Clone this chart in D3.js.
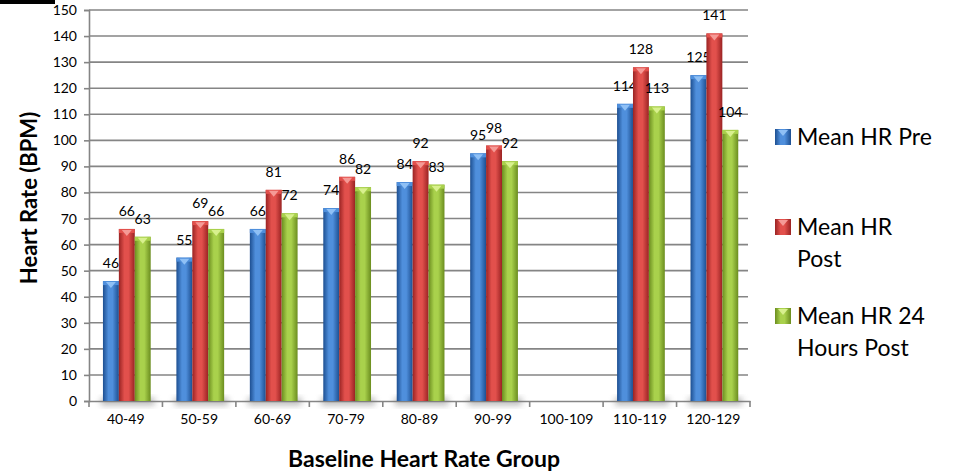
<!DOCTYPE html>
<html>
<head>
<meta charset="utf-8">
<script src="https://cdn.jsdelivr.net/npm/d3@7"></script>
<style>
  html, body { margin: 0; padding: 0; background: white; }
  svg { display: block; font-family: Lato, "Open Sans", sans-serif; }
</style>
</head>
<body>
<div id="chart"></div>
<script>
// Datos
const categorias = ["40-49", "50-59", "60-69", "70-79", "80-89", "90-99", "100-109", "110-119", "120-129"];
const series = ["Mean HR Pre", "Mean HR Post", "Mean HR 24 Hours Post"];
const hrPre = [46, 55, 66, 74, 84, 95, null, 114, 125];
const hrPost = [66, 69, 81, 86, 92, 98, null, 128, 141];
const hr24 = [63, 66, 72, 82, 83, 92, null, 113, 104];
const yTicks = [0, 10, 20, 30, 40, 50, 60, 70, 80, 90, 100, 110, 120, 130, 140, 150];

const width = 965, height = 473;
const margin = { left: 89, right: 750, top: 10, bottom: 401 };

// colores: [borde oscuro, centro claro, tapa]
const colores = [
  ["#1d4f91", "#4f8fdc", "#8fc0f5"],
  ["#9a2323", "#e2504c", "#f59a96"],
  ["#6b8d1f", "#a9d14c", "#d8f08e"]
];

const svg = d3.select("#chart").append("svg")
  .attr("width", width).attr("height", height);

const defs = svg.append("defs");
colores.forEach((c, i) => {
  const g = defs.append("linearGradient").attr("id", `grad${i}`)
    .attr("x1", "0%").attr("x2", "100%").attr("y1", "0%").attr("y2", "0%");
  g.append("stop").attr("offset", "0%").attr("stop-color", c[0]);
  g.append("stop").attr("offset", "35%").attr("stop-color", c[1]);
  g.append("stop").attr("offset", "60%").attr("stop-color", c[1]);
  g.append("stop").attr("offset", "100%").attr("stop-color", c[0]);
});
defs.append("filter").attr("id", "blur").attr("x", "-50%").attr("y", "-50%")
  .attr("width", "200%").attr("height", "200%")
  .append("feGaussianBlur").attr("stdDeviation", 3);

// Barra negra recortada arriba
svg.append("rect").attr("x", 0).attr("y", 0).attr("width", 55).attr("height", 4).attr("fill", "#000");

// Escalas
const y = d3.scaleLinear().domain([0, 150]).range([margin.bottom, margin.top]);
const x0 = d3.scaleBand().domain(categorias).range([margin.left, margin.right]);
const bw = x0.bandwidth();
const x1 = d3.scaleBand().domain(d3.range(3)).range([bw * 0.19, bw * 0.84]);

// Rejilla
svg.append("g").selectAll("line").data(yTicks.filter(d => d > 0)).enter().append("line")
  .attr("x1", margin.left).attr("x2", margin.right - 2)
  .attr("y1", d => y(d)).attr("y2", d => y(d))
  .attr("stroke", "#858585").attr("stroke-width", 1.6);

// Eje Y
const yAxis = svg.append("g").attr("transform", `translate(${margin.left},0)`)
  .call(d3.axisLeft(y).tickValues(yTicks).tickSize(5).tickPadding(7));
yAxis.select(".domain").attr("stroke", "#858585").attr("stroke-width", 1.6);
yAxis.selectAll(".tick line").attr("stroke", "#858585").attr("stroke-width", 1.6);
yAxis.selectAll("text").style("font-size", "14px").attr("fill", "#000")
  .style("font-family", "Lato, sans-serif");

// Eje X
const xAxis = svg.append("g").attr("transform", `translate(0,${margin.bottom})`)
  .call(d3.axisBottom(x0).tickSize(0).tickPadding(13));
xAxis.select(".domain").attr("stroke", "#858585").attr("stroke-width", 1.6);
xAxis.selectAll("text").style("font-size", "14px").attr("fill", "#000")
  .style("font-family", "Lato, sans-serif");
xAxis.selectAll(".sep").data(categorias.concat(["fin"])).enter().append("line")
  .attr("class", "sep")
  .attr("x1", (d, i) => margin.left + i * bw).attr("x2", (d, i) => margin.left + i * bw)
  .attr("y1", 0).attr("y2", 6)
  .attr("stroke", "#858585").attr("stroke-width", 1.6);

// Datos por grupo
const datos = categorias.map((c, i) => ({
  cat: c,
  vals: [hrPre[i], hrPost[i], hr24[i]]
}));

const grupos = svg.append("g").selectAll("g").data(datos).enter().append("g")
  .attr("transform", d => `translate(${x0(d.cat)},0)`);

// Sombras
grupos.filter(d => d.vals[0] != null).append("rect")
  .attr("x", x1(0) - 2).attr("width", x1.bandwidth() * 3 + 6)
  .attr("y", margin.bottom - 3).attr("height", 7)
  .attr("fill", "#777").attr("opacity", 0.55).attr("filter", "url(#blur)");

const barras = grupos.selectAll("g.bar")
  .data(d => d.vals.map((v, k) => ({ v, k })).filter(e => e.v != null))
  .enter().append("g").attr("class", "bar");

barras.append("rect")
  .attr("x", d => x1(d.k)).attr("width", x1.bandwidth())
  .attr("y", d => y(d.v)).attr("height", d => y(0) - y(d.v))
  .attr("fill", d => `url(#grad${d.k})`);

// Tapa biselada
barras.append("rect")
  .attr("x", d => x1(d.k)).attr("width", x1.bandwidth())
  .attr("y", d => y(d.v)).attr("height", 4)
  .attr("fill", d => colores[d.k][1]);
barras.append("path")
  .attr("d", d => {
    const xa = x1(d.k) + 3, xb = x1(d.k) + x1.bandwidth() - 3, xm = (xa + xb) / 2, ya = y(d.v) + 1;
    return `M${xa},${ya} L${xb},${ya} L${xm},${ya + 6} Z`;
  })
  .attr("fill", d => colores[d.k][2]);

// Etiquetas de valores
barras.append("text")
  .attr("x", d => x1(d.k) + x1.bandwidth() / 2)
  .attr("y", d => y(d.v) - 13)
  .attr("text-anchor", "middle")
  .style("font-size", "14px")
  .text(d => d.v);

// Títulos de ejes
svg.append("text")
  .attr("transform", "translate(37,198) rotate(-90)")
  .attr("text-anchor", "middle")
  .style("font-size", "22px").style("font-weight", "bold")
  .text("Heart Rate (BPM)");

svg.append("text")
  .attr("x", 424).attr("y", 467)
  .attr("text-anchor", "middle")
  .style("font-size", "23px").style("font-weight", "bold")
  .text("Baseline Heart Rate Group");

// Leyenda
const leyenda = [
  { lineas: ["Mean HR Pre"], y: 145 },
  { lineas: ["Mean HR", "Post"], y: 235 },
  { lineas: ["Mean HR 24", "Hours Post"], y: 324 }
];
const leg = svg.append("g").selectAll("g").data(leyenda).enter().append("g");
leg.append("rect")
  .attr("x", 775).attr("y", d => d.y - 16).attr("width", 16).attr("height", 16)
  .attr("fill", (d, i) => `url(#grad${i})`);
leg.append("path")
  .attr("d", d => `M778,${d.y - 15} L788,${d.y - 15} L783,${d.y - 9} Z`)
  .attr("fill", (d, i) => colores[i][2]);
leg.append("text")
  .attr("x", 797).attr("y", d => d.y)
  .style("font-size", "23px")
  .selectAll("tspan").data(d => d.lineas).enter().append("tspan")
  .attr("x", 797).attr("dy", (d, i) => i === 0 ? 0 : 32)
  .text(d => d);
</script>
</body>
</html>
